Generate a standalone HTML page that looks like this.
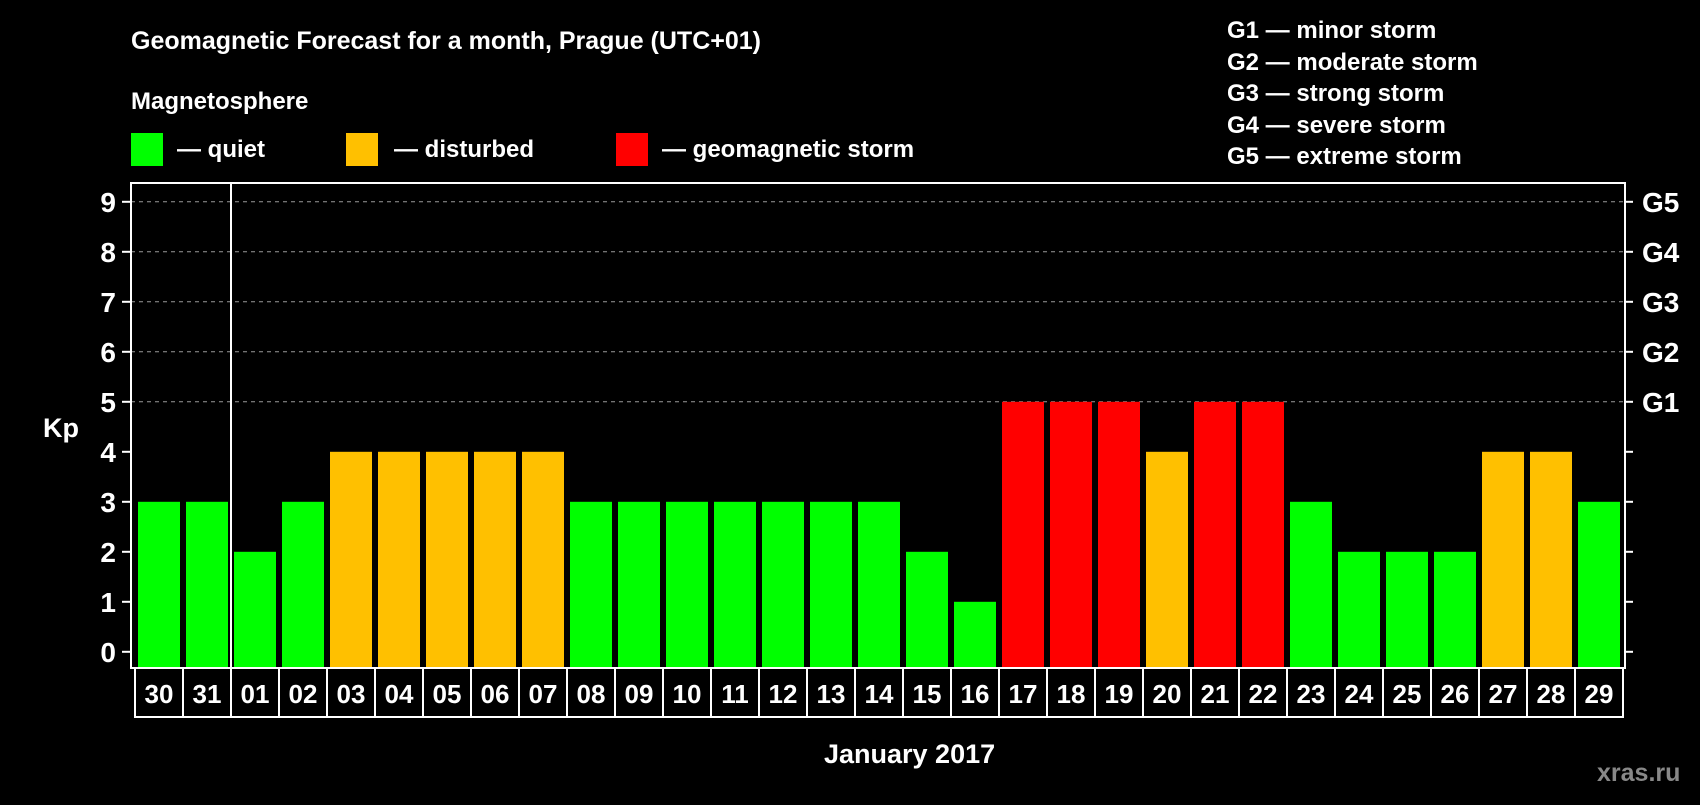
<!DOCTYPE html>
<html><head><meta charset="utf-8"><style>
body{margin:0;background:#000;width:1700px;height:800px;overflow:hidden}
svg text{font-family:"Liberation Sans",Arial,sans-serif;font-weight:bold;fill:#fff}
</style></head><body>
<svg id="chart" width="1700" height="800" xmlns="http://www.w3.org/2000/svg">
<rect width="1700" height="800" fill="#000"/>
<text x="131" y="49" font-size="25">Geomagnetic Forecast for a month, Prague (UTC+01)</text>
<text x="131" y="109" font-size="24">Magnetosphere</text>
<g><rect x="131" y="133" width="32" height="33" fill="#00ff00"/><text x="177" y="157" font-size="24">— quiet</text></g>
<g><rect x="346" y="133" width="32" height="33" fill="#ffc000"/><text x="394" y="157" font-size="24">— disturbed</text></g>
<g><rect x="616" y="133" width="32" height="33" fill="#ff0000"/><text x="662" y="157" font-size="24">— geomagnetic storm</text></g>
<g font-size="24">
<text x="1227" y="38">G1 — minor storm</text>
<text x="1227" y="70">G2 — moderate storm</text>
<text x="1227" y="101">G3 — strong storm</text>
<text x="1227" y="133">G4 — severe storm</text>
<text x="1227" y="164">G5 — extreme storm</text>
</g>
<text x="43" y="437" font-size="27">Kp</text>
<text x="824" y="763" font-size="27">January 2017</text>
<text x="1597" y="781" font-size="25" style="fill:#888">xras.ru</text>
<g id="grid"></g><g id="bars"></g><g id="axes"></g>
</svg>
<script>
const days=["30","31","01","02","03","04","05","06","07","08","09","10","11","12","13","14","15","16","17","18","19","20","21","22","23","24","25","26","27","28","29"];
const kpValues=[3,3,2,3,4,4,4,4,4,3,3,3,3,3,3,3,2,1,5,5,5,4,5,5,3,2,2,2,4,4,3];
const yTicks=[0,1,2,3,4,5,6,7,8,9];
const gLabels=["","","","","","G1","G2","G3","G4","G5"];
const NS="http://www.w3.org/2000/svg";
const L=131,R=1625,T=183,B=668,cellX0=135,cellW=48;
function y(v){return 651.8-v*50;}
function x(i){return cellX0+i*cellW;}
function color(v){return v>=5?"#ff0000":v>=4?"#ffc000":"#00ff00";}
function mk(tag,attrs,parent){const e=document.createElementNS(NS,tag);for(const k in attrs)e.setAttribute(k,attrs[k]);parent.appendChild(e);return e;}
const grid=document.getElementById('grid'),bars=document.getElementById('bars'),axes=document.getElementById('axes');
yTicks.forEach(t=>{
  if(t>=5){const g=mk('line',{x1:L,x2:R,y1:y(t),y2:y(t),stroke:'#999','stroke-width':1,'stroke-dasharray':'4 4'},grid);
  
  }
  const tl=mk('line',{x1:L-9,x2:L,y1:y(t),y2:y(t),stroke:'#fff','stroke-width':2},axes);
  
  
  const tr=mk('line',{x1:R,x2:R+8,y1:y(t),y2:y(t),stroke:'#fff','stroke-width':2},axes);
  
  
  const lb=mk('text',{x:116,y:y(t)+10,'font-size':28,'text-anchor':'end'},axes);lb.textContent=t;
  
  
  if(gLabels[t]){const gl=mk('text',{x:1642,y:y(t)+10,'font-size':28},axes);gl.textContent=gLabels[t];
  
  }
});
kpValues.forEach((v,i)=>{
  const b=mk('rect',{x:x(i)+3,y:y(v),width:42,height:B-y(v),fill:color(v)},bars);
  
  
  const c=mk('rect',{x:x(i),y:B,width:cellW,height:49,fill:'#000',stroke:'#fff','stroke-width':2},axes);
  
  
  const t=mk('text',{x:x(i)+cellW/2,y:B+35,'font-size':26,'text-anchor':'middle'},axes);t.textContent=days[i];
  
  
});
const fr=mk('rect',{x:L,y:T,width:R-L,height:B-T,fill:'none',stroke:'#fff','stroke-width':2},axes);


const sep=mk('line',{x1:231,x2:231,y1:T,y2:B,stroke:'#fff','stroke-width':2},axes);


</script>
</body></html>
